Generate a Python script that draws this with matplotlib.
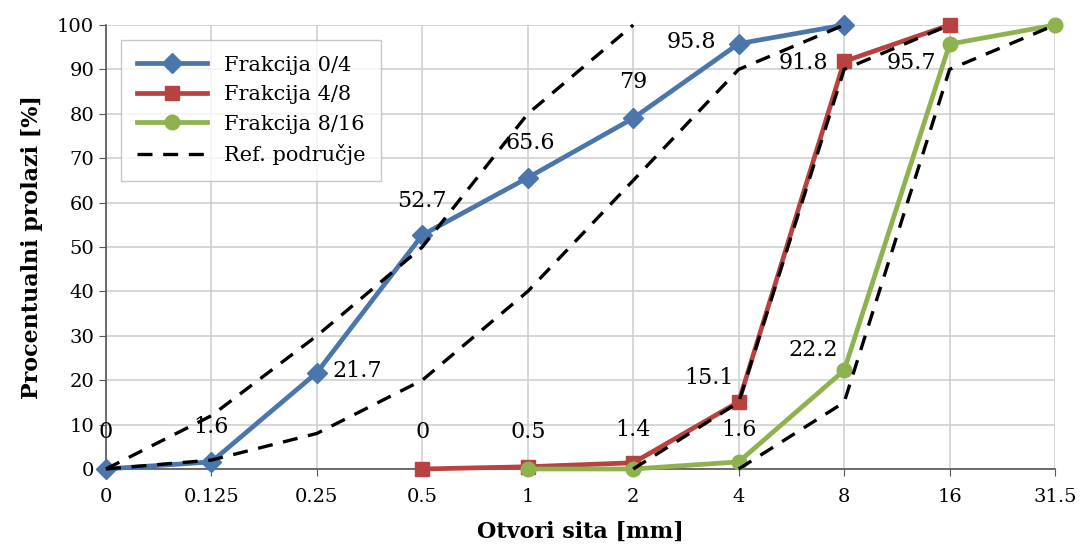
import matplotlib
matplotlib.use("Agg")
import matplotlib.pyplot as plt

# sieve openings (categorical axis)
sieves = ["0", "0.125", "0.25", "0.5", "1", "2", "4", "8", "16", "31.5"]

# fractions: x index on the sieve axis, passing %
f04_x = [0, 1, 2, 3, 4, 5, 6, 7]
f04_y = [0, 1.6, 21.7, 52.7, 65.6, 79, 95.8, 100]
f48_x = [3, 4, 5, 6, 7, 8]
f48_y = [0, 0.5, 1.4, 15.1, 91.8, 100]
f816_x = [4, 5, 6, 7, 8, 9]
f816_y = [0, 0, 1.6, 22.2, 95.7, 100]

# reference envelopes
ref_curves = [
    ([0, 1, 2, 3, 4, 5], [0, 12, 30, 50, 80, 100]),
    ([0, 1, 2, 3, 4, 5, 6, 7], [0, 2, 8, 20, 40, 65, 90, 100]),
    ([5, 6, 7, 8], [0, 15, 90, 100]),
    ([6, 7, 8, 9], [0, 15, 90, 100]),
]

# data labels: (x index, value, text, dx px, dy px)
labels_04 = [(0, 0, "0", 0, 37), (1, 1.6, "1.6", 0, 35), (2, 21.7, "21.7", 40, 2),
             (3, 52.7, "52.7", 0, 34), (4, 65.6, "65.6", 2, 35), (5, 79, "79", 0, 36),
             (6, 95.8, "95.8", -47, 2)]
labels_48 = [(3, 0, "0", 0, 37), (4, 0.5, "0.5", 0, 35), (5, 1.4, "1.4", 0, 33),
             (6, 15.1, "15.1", -30, 24), (7, 91.8, "91.8", -41, -2)]
labels_816 = [(6, 1.6, "1.6", 0, 32), (7, 22.2, "22.2", -31, 20), (8, 95.7, "95.7", -38, -19)]

BLUE = "#4A76AC"
RED = "#B8423F"
GREEN = "#8DB24E"

plt.rcParams["font.family"] = ["DejaVu Serif"]

fig = plt.figure(figsize=(10.81, 5.52), dpi=100)
ax = fig.add_axes([0.098, 0.1504, 0.878, 0.8043])

ax.plot(f04_x, f04_y, color=BLUE, lw=3.4, marker="D", ms=10, label="Frakcija 0/4",
        zorder=3, clip_on=False)
ax.plot(f48_x, f48_y, color=RED, lw=3.4, marker="s", ms=10, label="Frakcija 4/8",
        zorder=3, clip_on=False)
ax.plot(f816_x, f816_y, color=GREEN, lw=3.4, marker="o", ms=10.5, label="Frakcija 8/16",
        zorder=3, clip_on=False)
for i, (rx, ry) in enumerate(ref_curves):
    ax.plot(rx, ry, color="black", lw=2.4, ls=(0, (4.5, 3.2)),
            label="Ref. područje" if i == 0 else None, zorder=4, clip_on=False)

for lst in (labels_04, labels_48, labels_816):
    for xi, v, t, dx, dy in lst:
        ax.annotate(t, (xi, v), xytext=(dx, dy), textcoords="offset pixels",
                    ha="center", va="center", fontsize=16, zorder=5)

ax.set_xlim(0, 9)
ax.set_ylim(0, 100)
ax.set_xticks(range(len(sieves)))
ax.set_xticklabels(sieves)
ax.set_yticks(range(0, 101, 10))
ax.tick_params(labelsize=14, direction="out", length=5, color="#555555")
ax.tick_params(axis="x", pad=9)
ax.grid(True, color="#D0D0D0", lw=1.2)
ax.set_axisbelow(True)
for s in ("top", "right"):
    ax.spines[s].set_visible(False)
for s in ("left", "bottom"):
    ax.spines[s].set_color("#555555")
    ax.spines[s].set_linewidth(1.2)

ax.set_xlabel("Otvori sita [mm]", fontsize=16, fontweight="bold", labelpad=10)
ax.set_ylabel("Procentualni prolazi [%]", fontsize=16, fontweight="bold", labelpad=10)

leg = ax.legend(loc="upper left", bbox_to_anchor=(0.0158, 0.966), fontsize=15,
                handlelength=3.4, frameon=True, fancybox=False, borderpad=0.75,
                labelspacing=0.5, borderaxespad=0)
leg.get_frame().set_edgecolor("#BBBBBB")
leg.get_frame().set_linewidth(1.0)

fig.savefig("out.png", dpi=100)
